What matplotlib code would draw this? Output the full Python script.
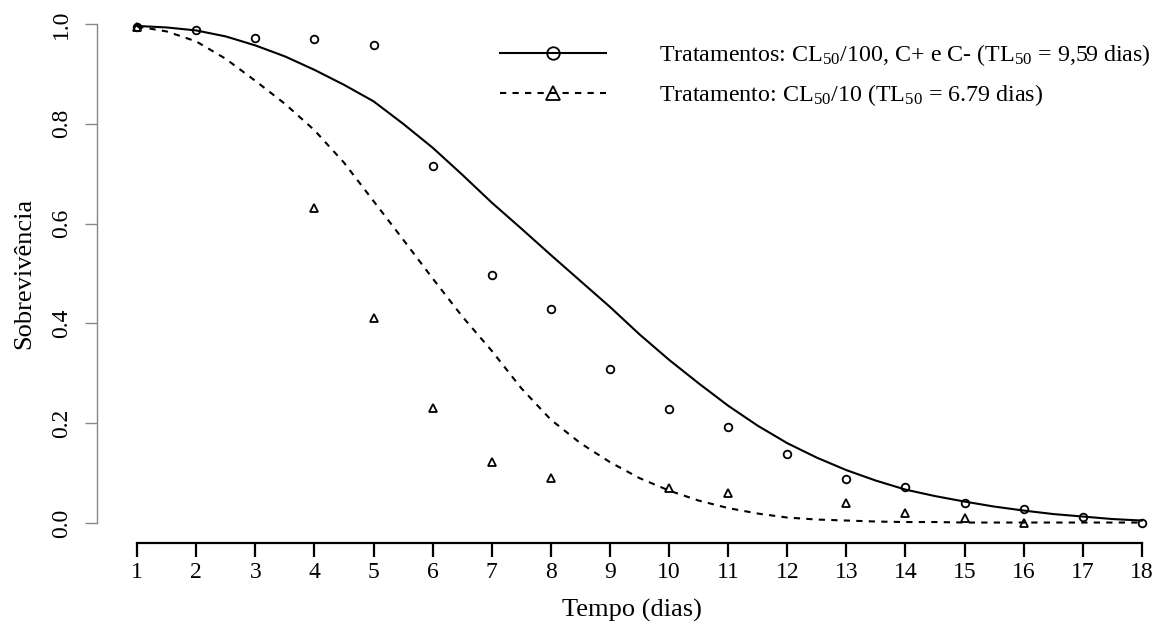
import numpy as np
import matplotlib
matplotlib.use("Agg")
import matplotlib.pyplot as plt
from matplotlib.lines import Line2D

plt.rcParams['font.family'] = ['Liberation Serif', 'DejaVu Serif']
plt.rcParams['mathtext.fontset'] = 'custom'
plt.rcParams['mathtext.rm'] = 'Liberation Serif'
plt.rcParams['mathtext.it'] = 'Liberation Serif:italic'

dias_circ = [1, 2, 3, 4, 5, 6, 7, 8, 9, 10, 11, 12, 13, 14, 15, 16, 17, 18]
surv_circ = [0.993, 0.987, 0.972, 0.970, 0.957, 0.716, 0.496, 0.429, 0.309,
             0.229, 0.193, 0.139, 0.089, 0.073, 0.040, 0.029, 0.013, 0.0]
dias_tri = [1, 4, 5, 6, 7, 8, 10, 11, 13, 14, 15, 16]
surv_tri = [0.993, 0.632, 0.410, 0.231, 0.122, 0.091, 0.070, 0.061,
            0.041, 0.021, 0.011, 0.001]

# fitted curves, read at half-day steps
t_fit = [1.0, 1.5, 2.0, 2.5, 3.0, 3.5, 4.0, 4.5, 5.0, 5.5, 6.0, 6.5, 7.0, 7.5,
         8.0, 8.5, 9.0, 9.5, 10.0, 10.5, 11.0, 11.5, 12.0, 12.5, 13.0, 13.5,
         14.0, 14.5, 15.0, 15.5, 16.0, 16.5, 17.0, 17.5, 18.0]
fit_100 = [0.996, 0.993, 0.987, 0.975, 0.957, 0.935, 0.908, 0.878, 0.845,
           0.800, 0.752, 0.698, 0.642, 0.590, 0.537, 0.485, 0.433, 0.378,
           0.327, 0.280, 0.235, 0.195, 0.160, 0.131, 0.106, 0.085, 0.067,
           0.054, 0.043, 0.033, 0.025, 0.018, 0.013, 0.008, 0.005]
fit_10 = [0.995, 0.985, 0.965, 0.930, 0.886, 0.840, 0.787, 0.722, 0.645,
          0.568, 0.490, 0.414, 0.345, 0.270, 0.207, 0.160, 0.122, 0.090,
          0.065, 0.045, 0.030, 0.019, 0.011, 0.007, 0.005, 0.003, 0.002,
          0.002, 0.001, 0.001, 0.001, 0.001, 0.001, 0.001, 0.001]

x_ticks = list(range(1, 19))
y_ticks = [0.0, 0.2, 0.4, 0.6, 0.8, 1.0]
y_labels = ["0.0", "0.2", "0.4", "0.6", "0.8", "1.0"]

lab_100 = r"Tratamentos: $\mathrm{CL}_{50}$/100, C+ e C- ($\mathrm{TL}_{50}$ = 9,59 dias)"
lab_10 = r"Tratamento: $\mathrm{CL}_{50}$/10 ($\mathrm{TL}_{50}$ = 6.79 dias)"

W, H = 1167, 634
fig = plt.figure(figsize=(W / 100, H / 100), dpi=100)
ax = fig.add_axes([97 / W, (H - 543) / H, (W - 97) / W, 539 / H])

ax.plot(t_fit, fit_100, color='black', lw=1.5, ls='-')
ax.plot(t_fit, fit_10, color='black', lw=1.5, ls=(0, (3, 3)))
ax.plot(dias_circ, surv_circ, ls='none', marker='o', ms=5.5, mfc='none',
        mec='black', mew=1.3)
ax.plot(dias_tri, surv_tri, ls='none', marker='^', ms=6, mfc='none',
        mec='black', mew=1.3)

ax.set_xlim(0.32, 0.32 + (W - 97) / 59.1)
ax.set_ylim(-0.04, 1.04)

for s in ['top', 'right']:
    ax.spines[s].set_visible(False)
ax.spines['left'].set_bounds(0, 1)
ax.spines['left'].set_color('#888888')
ax.spines['left'].set_linewidth(1.0)
ax.spines['bottom'].set_bounds(1, 18)
ax.spines['bottom'].set_linewidth(1.6)

ax.set_xticks(x_ticks)
ax.set_xticklabels([str(d) for d in x_ticks], fontsize=17)
ax.set_yticks(y_ticks)
ax.set_yticklabels(y_labels, fontsize=17, rotation=90, va='center')
ax.tick_params(axis='x', length=10, width=1.6, pad=4)
ax.tick_params(axis='y', length=9, width=1.0, color='#888888', pad=9)

ax.set_xlabel("Tempo (dias)", fontsize=19, labelpad=11)
ax.set_ylabel("Sobrevivência", fontsize=19, labelpad=11)

h1 = Line2D([], [], color='black', lw=1.5, marker='o', ms=9, mfc='none', mec='black', mew=1.3)
h2 = Line2D([], [], color='black', lw=1.5, ls=(0, (3, 3)), marker='^', ms=10, mfc='none', mec='black', mew=1.3)
fig.legend([h1, h2], [lab_100, lab_10], loc='upper left',
           bbox_to_anchor=(500 / W, 1 - 42 / H), frameon=False, fontsize=17.3,
           handlelength=4.4, handletextpad=2.2, labelspacing=0.6,
           borderpad=0, borderaxespad=0)

fig.savefig("out.png", dpi=100)
